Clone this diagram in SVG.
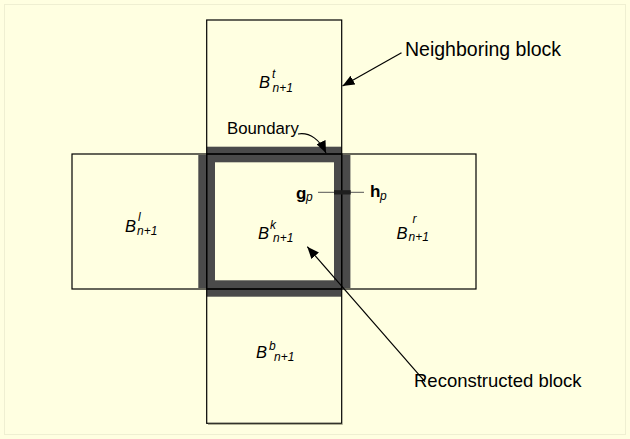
<svg xmlns="http://www.w3.org/2000/svg" width="630" height="439" viewBox="0 0 630 439">
<style>
.out{fill:none;stroke:#000;stroke-width:1.2}
.band{fill:#4a4a4a}
.lbl{font-family:"Liberation Sans",Arial,sans-serif;fill:#000}
.B{font-family:"Liberation Sans",Arial,sans-serif;font-style:italic;font-size:16.5px;fill:#000}
.s{font-family:"Liberation Sans",Arial,sans-serif;font-style:italic;font-size:12px;fill:#000}
.v{font-family:"Liberation Sans",Arial,sans-serif;font-weight:bold;font-size:17px;fill:#000}
.ln{stroke:#000;stroke-width:1.2;fill:none}
</style>
<defs>
<marker id="ah" viewBox="0 0 12 10" refX="12" refY="5" markerWidth="12" markerHeight="10" markerUnits="userSpaceOnUse" orient="auto">
<path d="M0,0 L12,5 L0,10 z" fill="#000"/>
</marker>
</defs>
<rect x="0" y="0" width="630" height="439" fill="#FFFFE1"/>
<rect x="4.5" y="4.5" width="621" height="430" fill="none" stroke="#EFEFD2" stroke-width="1"/>
<g id="bands">
<rect class="band" x="206.7" y="146.7" width="135" height="15.6"/>
<rect class="band" x="206.7" y="280.3" width="135" height="16.4"/>
<rect class="band" x="198.3" y="155" width="16.7" height="133"/>
<rect class="band" x="334" y="155" width="16.4" height="133"/>
</g>
<g id="top">
<rect class="out" x="206.7" y="20" width="135" height="134"/>
<text class="B" x="259" y="88">B</text><text class="s" x="272" y="78">t</text><text class="s" x="272.5" y="92">n+1</text>
</g>
<g id="left">
<rect class="out" x="72" y="154" width="134.7" height="135"/>
<text class="B" x="125" y="232">B</text><text class="s" x="138" y="221">l</text><text class="s" x="137" y="235">n+1</text>
</g>
<g id="right">
<rect class="out" x="341.7" y="154" width="134.3" height="135"/>
<text class="B" x="396.5" y="238.5">B</text><text class="s" x="412.5" y="222.5">r</text><text class="s" x="408.5" y="241">n+1</text>
</g>
<g id="bottom">
<rect class="out" x="206.7" y="289" width="135" height="134.3"/>
<line x1="208" y1="424.3" x2="342.7" y2="424.3" stroke="#9a9a80" stroke-width="1"/>
<text class="B" x="256" y="357.5">B</text><text class="s" x="269" y="350">b</text><text class="s" x="274" y="360.5">n+1</text>
</g>
<g id="center">
<rect class="out" x="206.7" y="154" width="135" height="135"/>
<text class="B" x="258" y="238.5">B</text><text class="s" x="270" y="229">k</text><text class="s" x="273" y="242">n+1</text>
</g>
<g id="gh">
<line x1="318" y1="192.3" x2="364" y2="192.3" stroke="#555" stroke-width="1"/>
<rect x="334" y="190.2" width="16.7" height="4.3" fill="#1e1e1e"/>
<text class="v" x="296" y="198.5">g</text><text class="s" x="306" y="201">p</text>
<text class="v" x="370" y="197">h</text><text class="s" x="380" y="200">p</text>
</g>
<g id="connectors">
<line class="ln" x1="401.5" y1="52.7" x2="342.5" y2="86" marker-end="url(#ah)"/>
<line class="ln" x1="425" y1="381.7" x2="307.3" y2="246.7" marker-end="url(#ah)"/>
<path class="ln" d="M298,134 C310,132 320,140 326,153" marker-end="url(#ah)"/>
</g>
<g id="labels">
<text class="lbl" x="405" y="56" font-size="19.5">Neighboring block</text>
<text class="lbl" x="227" y="134" font-size="16.8">Boundary</text>
<text class="lbl" x="414" y="387" font-size="18.5">Reconstructed block</text>
</g>
</svg>
